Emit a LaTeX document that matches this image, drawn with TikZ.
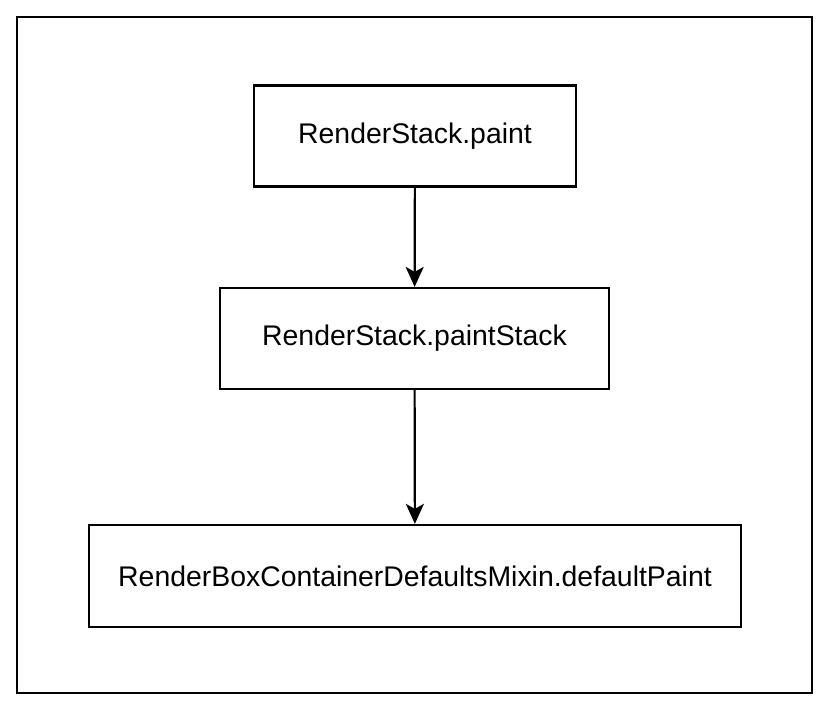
\documentclass[tikz,border=0pt]{standalone}
\usepackage{fontspec}
\setmainfont{Liberation Sans}
\usetikzlibrary{arrows.meta}

\begin{document}
\begin{tikzpicture}[x=0.5pt, y=-0.5pt, >={Stealth[length=10pt, width=9pt, inset=2.5pt]},
    block/.style={draw, line width=1.1pt, minimum height=50.5pt, font=\fontsize{14.2pt}{17pt}\selectfont}]
    \useasboundingbox (0, 0) rectangle (830, 712);

    % frame
    \node[draw, line width=0.9pt, minimum width=397.5pt, minimum height=338pt, inner sep=0pt] (frame) at (414.5, 355) {};

    % calls
    \node[block, minimum width=161pt] (paint) at (415, 136) {RenderStack.paint};
    \node[block, minimum width=194.5pt] (stack) at (414.5, 338.5) {RenderStack.paintStack};
    \node[block, minimum width=326pt, minimum height=51pt] (default) at (415, 576) {RenderBoxContainerDefaultsMixin.defaultPaint};

    \draw[->, line width=1.1pt] (paint) -- (stack);
    \draw[->, line width=1.1pt] (stack) -- (default);

\end{tikzpicture}
\end{document}
